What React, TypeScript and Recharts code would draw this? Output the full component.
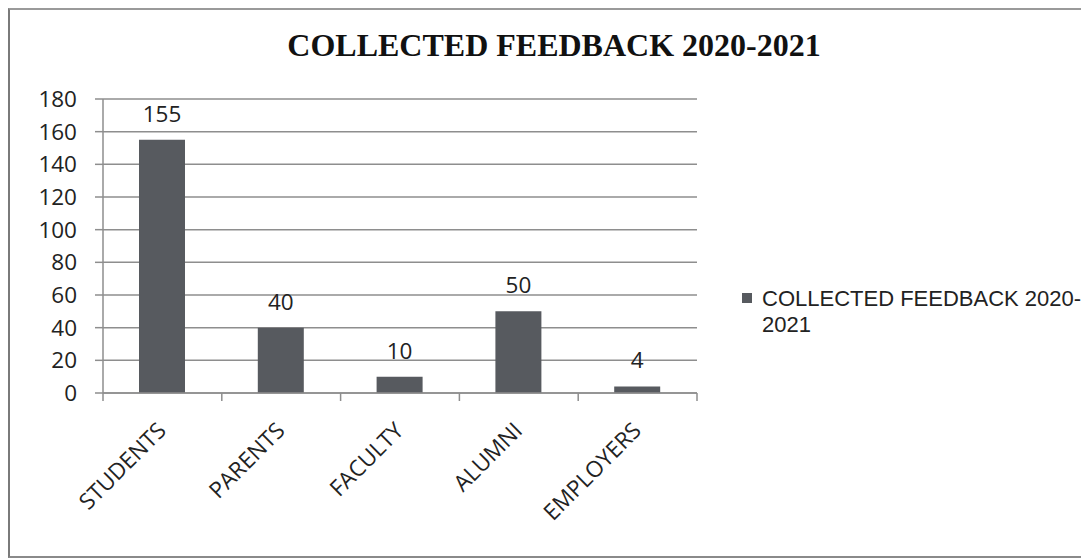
import { Bar, BarChart, CartesianGrid, LabelList, Legend, XAxis, YAxis } from "recharts";

const categories = ["STUDENTS", "PARENTS", "FACULTY", "ALUMNI", "EMPLOYERS"];
const feedbackCounts = [155, 40, 10, 50, 4];
const yTicks = [0, 20, 40, 60, 80, 100, 120, 140, 160, 180];
const seriesName = "COLLECTED FEEDBACK 2020-2021";
const chartTitle = "COLLECTED FEEDBACK 2020-2021";

const data = categories.map((name, i) => ({ name, value: feedbackCounts[i] }));

const SANS = "'Open Sans', 'Noto Sans', sans-serif";
const BAR_COLOR = "#575a5f";
const GRID_COLOR = "#8e8e8e";
const TEXT_COLOR = "#222";

function CategoryTick(props: any) {
  const { x, y, payload, index, width, visibleTicksCount } = props;
  const half = payload?.offset ?? width / visibleTicksCount / 2;
  const isLast = index === visibleTicksCount - 1;
  const tx = x + 5;
  const ty = y + 39;
  return (
    <g>
      <line x1={x - half} y1={y} x2={x - half} y2={y + 8} stroke={GRID_COLOR} strokeWidth={1.5} />
      {isLast && <line x1={x + half} y1={y} x2={x + half} y2={y + 8} stroke={GRID_COLOR} strokeWidth={1.5} />}
      <text
        x={tx}
        y={ty}
        textAnchor="end"
        transform={`rotate(-45, ${tx}, ${ty})`}
        fontFamily={SANS}
        fontSize={22.5}
        fill={TEXT_COLOR}
      >
        {payload.value}
      </text>
    </g>
  );
}

// legend text wraps after "2020-" like the original
function LegendContent() {
  const lines = seriesName.replace("-", "-\n").split("\n");
  return (
    <div style={{ fontFamily: "'Liberation Sans', Arial, sans-serif", fontSize: 22, lineHeight: "26px", color: TEXT_COLOR }}>
      {lines.map((line, i) => (
        <div key={line} style={{ display: "flex", alignItems: "flex-start", height: 26 }}>
          <div
            style={{
              width: 10,
              height: 10,
              marginTop: 7,
              marginRight: 10,
              background: i === 0 ? BAR_COLOR : "transparent",
              flexShrink: 0,
            }}
          />
          <span style={{ whiteSpace: "nowrap" }}>{line}</span>
        </div>
      ))}
    </div>
  );
}

export default function App() {
  return (
    <div
      style={{
        position: "relative",
        width: 1079,
        height: 546,
        borderLeft: "2px solid #7a7a7a",
        borderTop: "2px solid #9a9a9a",
        borderBottom: "2px solid #8a8a8a",
        background: "#fff",
      }}
    >
      <div
        style={{
          position: "absolute",
          left: 0,
          top: 19,
          width: 1088,
          textAlign: "center",
          fontFamily: "'Liberation Serif', 'Times New Roman', serif",
          fontWeight: "bold",
          fontSize: 32,
          lineHeight: "32px",
          color: "#111",
          zIndex: 1,
        }}
      >
        {chartTitle}
      </div>
      <BarChart width={1079} height={546} data={data} margin={{ top: 89, right: 392, left: 0, bottom: 63 }}>
        <CartesianGrid vertical={false} stroke={GRID_COLOR} strokeWidth={1.5} />
        <XAxis
          dataKey="name"
          height={100}
          interval={0}
          tickLine={false}
          tickSize={0}
          tickMargin={0}
          axisLine={{ stroke: GRID_COLOR, strokeWidth: 1.5 }}
          tick={<CategoryTick />}
        />
        <YAxis
          width={93}
          domain={[0, 180]}
          ticks={yTicks}
          interval={0}
          tickSize={8}
          tickMargin={18}
          axisLine={{ stroke: GRID_COLOR, strokeWidth: 1.5 }}
          tickLine={{ stroke: GRID_COLOR, strokeWidth: 1.5 }}
          tick={{ fontFamily: SANS, fontSize: 22.5, fill: TEXT_COLOR }}
        />
        <Legend
          layout="vertical"
          align="center"
          verticalAlign="middle"
          wrapperStyle={{ left: 732, top: 276, width: 345 }}
          content={<LegendContent />}
        />
        <Bar dataKey="value" name={seriesName} fill={BAR_COLOR} barSize={46} isAnimationActive={false}>
          <LabelList dataKey="value" position="top" offset={18} fontFamily={SANS} fontSize={22.5} fill={TEXT_COLOR} />
        </Bar>
      </BarChart>
    </div>
  );
}
